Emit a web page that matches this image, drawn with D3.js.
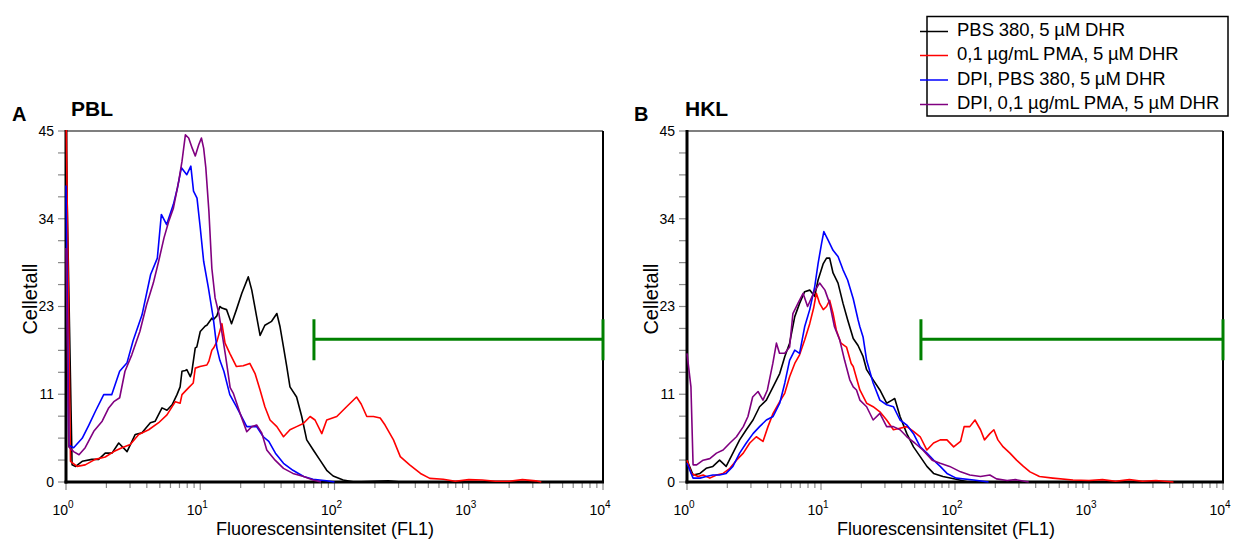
<!DOCTYPE html>
<html><head><meta charset="utf-8">
<script src="https://cdn.jsdelivr.net/npm/d3@7"></script>
<style>body{margin:0;background:#fff}svg{display:block;font-family:Arial,"Liberation Sans",sans-serif}</style>
</head><body><svg id="c" width="1234" height="540"></svg>
<script>
// ---------- data: [FL1 intensity, cell count] ----------
const pblBlack = [[1.00,44],[1.11,2.2],[1.18,2.0],[1.32,2.65],[1.56,2.9],[1.75,2.9],[1.96,3.7],[2.20,3.7],[2.47,5.0],[2.85,3.9],[3.28,6.1],[3.68,6.3],[4.25,7.6],[4.62,7.8],[5.19,9.5],[5.65,9.2],[6.17,9.9],[6.71,11.2],[7.08,12.2],[7.31,14.2],[7.75,14.3],[7.94,14.4],[8.43,13.5],[8.63,14.0],[9.18,17.2],[9.42,17.3],[10.0,19.3],[10.9,20.0],[11.2,20.1],[12.2,21.0],[12.5,20.8],[13.3,21.3],[14.0,22.5],[14.5,22.3],[15.7,22.1],[16.3,21.3],[17.1,20.3],[18.6,22.1],[20.4,24.2],[22.8,26.3],[24.2,24.6],[26.3,21.2],[27.9,18.8],[30.3,20.1],[34.0,20.6],[37.2,21.6],[39.3,19.9],[41.7,17.3],[44.1,14.8],[46.6,12.2],[52.2,10.9],[57.0,8.4],[62.1,5.4],[69.5,4.1],[78.0,2.8],[87.5,1.5],[97.7,0.77],[116,0.25],[141,0],[251,0.15],[316,0],[400,0]];
const pblRed = [[1.00,48],[1.08,2.65],[1.21,2.0],[1.39,2.2],[1.65,2.9],[1.96,3.2],[2.27,3.9],[2.61,4.4],[3.01,4.8],[3.48,6.1],[4.13,6.7],[4.90,7.6],[5.65,8.6],[6.52,10.3],[7.08,10.1],[7.31,11.2],[8.20,12.1],[8.87,12.7],[9.18,14.6],[9.95,14.8],[11.2,15.0],[11.6,15.5],[12.2,16.9],[12.6,17.2],[13.3,18.0],[14.5,20.3],[15.3,17.8],[16.6,16.5],[18.6,14.8],[20.9,14.9],[23.4,15.2],[25.6,13.9],[27.9,11.8],[30.3,9.65],[33.1,7.95],[37.2,7.1],[41.7,5.8],[46.6,6.7],[52.2,7.1],[58.6,7.5],[65.8,8.4],[71.6,7.95],[80.4,6.2],[87.5,7.95],[104,8.4],[123,9.65],[146,10.9],[158,10.0],[174,8.4],[195,8.4],[219,8.2],[238,7.3],[275,5.4],[309,3.25],[363,2.2],[437,1.1],[513,0.47],[646,0.35],[794,0.1],[1000,0.3],[1260,0.25],[1580,0.1],[2000,0.1],[2510,0.3],[3160,0.15],[3470,0]];
const pblBlue = [[1.00,38],[1.05,4.7],[1.14,4.4],[1.32,5.6],[1.48,7.3],[1.66,9.1],[1.91,11.2],[2.19,11.2],[2.51,14.2],[2.85,15.3],[3.16,18.1],[3.68,21.4],[4.27,26.6],[4.79,28.7],[5.13,34.3],[5.62,33.0],[6.31,35.6],[6.76,37.7],[7.24,40.3],[7.94,39.4],[8.51,40.5],[8.91,37.3],[9.46,36.4],[10.0,32.6],[10.6,28.3],[11.5,24.9],[12.5,21.0],[13.3,17.2],[14.0,15.6],[15.0,14.2],[16.6,11.2],[18.6,9.65],[22.2,7.1],[26.3,7.1],[29.5,5.8],[32.4,5.2],[36.3,3.7],[41.7,2.4],[49.0,1.5],[58.9,0.7],[69.2,0.35],[87.1,0.15],[100,0]];
const pblPurple = [[1.00,30],[1.05,4.5],[1.14,3.9],[1.25,3.5],[1.39,4.4],[1.61,6.5],[1.86,7.8],[2.08,9.5],[2.27,10.3],[2.51,10.8],[2.75,14.2],[3.09,16.3],[3.55,19.3],[3.98,22.7],[4.47,25.5],[4.90,28.3],[5.37,31.3],[5.82,33.4],[6.31,35.1],[6.92,38.6],[7.31,41.1],[7.75,44.5],[8.20,44.1],[8.71,42.8],[9.18,41.8],[9.73,43.2],[10.2,44.1],[10.6,42.8],[11.0,40.3],[11.6,34.7],[12.2,27.4],[12.9,23.6],[13.8,21.5],[15.4,16.3],[16.7,12.1],[17.6,11.4],[19.8,8.8],[22.2,6.45],[24.2,7.1],[26.3,7.3],[28.7,6.3],[31.3,4.1],[36.1,2.8],[41.7,1.75],[49.0,1.1],[58.9,0.7],[69.2,0.25],[79.4,0]];

const hklBlack = [[1.00,2.8],[1.11,0.9],[1.25,1.1],[1.39,1.75],[1.56,2.0],[1.75,2.8],[1.96,2.0],[2.20,3.7],[2.47,5.4],[2.77,6.7],[3.11,7.95],[3.48,9.65],[3.91,10.5],[4.39,12.2],[4.92,13.9],[5.37,16.1],[5.83,17.8],[6.37,21.2],[6.92,22.9],[7.55,24.4],[8.24,24.6],[8.97,23.8],[9.51,25.9],[10.4,28.0],[11.0,28.7],[11.6,28.7],[12.3,26.8],[13.4,25.5],[14.6,22.9],[15.8,20.8],[17.4,18.4],[18.9,17.5],[20.6,16.1],[21.9,14.4],[24.5,13.1],[27.5,11.8],[30.9,10.1],[33.9,10.5],[35.5,10.7],[38.9,8.4],[43.7,6.2],[49.0,4.5],[55.0,3.25],[61.7,2.0],[69.2,1.1],[81.3,0.7],[102,0.35],[126,0]];
const hklRed = [[1.00,2.8],[1.08,1.1],[1.21,0.7],[1.32,0.9],[1.48,0.5],[1.66,0.9],[1.86,1.1],[2.09,1.75],[2.34,2.8],[2.63,3.7],[2.94,5.0],[3.29,5.8],[3.69,5.2],[4.02,7.1],[4.39,8.8],[4.92,10.3],[5.37,11.4],[5.83,13.5],[6.37,15.2],[6.92,16.3],[7.55,18.2],[8.24,20.3],[8.81,22.3],[9.23,24.2],[9.77,22.9],[10.4,22.1],[11.0,22.5],[11.6,23.3],[12.3,21.6],[13.0,19.5],[14.1,17.8],[15.5,17.3],[16.8,15.2],[17.4,14.8],[19.5,11.8],[21.9,10.1],[24.5,9.65],[27.5,9.0],[30.9,7.95],[34.7,6.7],[38.9,6.9],[43.7,7.1],[49.0,6.5],[55.0,5.8],[61.7,4.1],[69.2,5.0],[77.6,5.4],[87.1,5.4],[97.7,4.5],[110,5.2],[117,7.1],[129,7.1],[141,7.95],[155,6.7],[166,5.4],[182,6.2],[195,6.7],[209,5.4],[229,4.5],[257,3.7],[288,2.8],[324,2.0],[363,1.3],[427,0.7],[537,0.5],[759,0.25],[1000,0.2],[1260,0.3],[1580,0.1],[2000,0.3],[2510,0.1],[3160,0.2],[4270,0]];
const hklBlue = [[1.00,2.4],[1.11,0.5],[1.25,0.5],[1.39,0.7],[1.56,0.9],[1.75,0.9],[1.96,1.1],[2.20,2.0],[2.47,3.7],[2.77,5.0],[3.11,6.2],[3.48,7.1],[3.91,7.95],[4.39,8.4],[4.92,10.1],[5.37,12.7],[5.83,15.6],[6.37,16.9],[6.92,16.5],[7.55,19.9],[8.24,22.1],[8.97,25.0],[9.51,28.0],[10.1,30.6],[10.5,32.1],[11.3,31.0],[12.3,29.7],[13.4,28.9],[14.6,27.2],[15.8,25.9],[17.4,23.5],[18.9,20.8],[19.5,19.9],[20.6,18.6],[21.9,15.6],[24.5,12.7],[27.5,10.5],[30.9,9.9],[34.7,9.65],[38.9,7.95],[43.7,7.3],[49.0,6.2],[55.0,4.5],[61.7,3.7],[69.2,2.8],[77.6,2.0],[87.1,1.1],[102,0.5],[138,0.25],[178,0]];
const hklPurple = [[1.00,16.5],[1.07,12.2],[1.11,2.2],[1.18,2.2],[1.32,2.8],[1.48,3.0],[1.66,3.7],[1.86,4.1],[2.09,5.0],[2.34,5.8],[2.63,7.1],[2.85,8.4],[3.09,10.9],[3.39,11.6],[3.69,10.5],[3.98,11.8],[4.37,15.2],[4.65,17.8],[4.90,16.5],[5.37,16.5],[5.83,17.3],[6.17,21.6],[6.73,22.9],[7.35,24.2],[7.94,22.5],[8.91,24.4],[9.77,25.5],[10.7,24.6],[11.6,22.9],[12.6,19.9],[13.8,18.2],[15.0,15.6],[16.4,13.1],[17.4,12.2],[18.4,11.8],[19.5,10.5],[21.9,9.65],[24.5,7.95],[27.5,8.8],[30.9,7.1],[34.7,7.1],[38.9,6.7],[43.7,5.8],[50.1,5.0],[57.5,4.1],[67.6,2.8],[77.6,2.4],[91.2,2.0],[110,1.3],[129,0.9],[155,0.7],[182,0.9],[204,0.4],[245,0.2],[282,0.3],[355,0]];

const seriesNames = ["PBS 380, 5 \u00b5M DHR","0,1 \u00b5g/mL PMA, 5 \u00b5M DHR","DPI, PBS 380, 5 \u00b5M DHR","DPI, 0,1 \u00b5g/mL PMA, 5 \u00b5M DHR"];
const seriesColors = ["#000000","#ff0000","#0000ff","#800080"];
const panelLetters = ["A","B"];
const panelTitles = ["PBL","HKL"];
const yTickValues = [0, 11.25, 22.5, 33.75, 45];
const yTickLabels = ["0","11","23","34","45"];
const xDecades = [1,10,100,1000,10000];
const xTickExponents = ["0","1","2","3","4"];
const gateA = [70.3, 10000, 18.3];
const gateB = [55.7, 10000, 18.3];
const yTitle = "Celletall";
const xTitle = "Fluorescensintensitet (FL1)";

// ---------- drawing ----------
const svg = d3.select("#c");
const panels = [
  {x0:66, x1:603, letterX:12, titleX:71, ylabX:30, xlabX:325, series:[pblBlack,pblRed,pblBlue,pblPurple], gate:gateA},
  {x0:687, x1:1223, letterX:634, titleX:685, ylabX:651, xlabX:946, series:[hklBlack,hklRed,hklBlue,hklPurple], gate:gateB}
];
const yTop = 131, yBot = 482;
const grey = "#8a8a8a";

panels.forEach((p, pi) => {
  const x = d3.scaleLog().domain([1,10000]).range([p.x0,p.x1]);
  const y = d3.scaleLinear().domain([0,45]).range([yBot,yTop]);
  const g = svg.append("g");

  // y ticks (minor + major)
  const yMinor = d3.range(17).map(i => i*45/16);
  g.append("g").selectAll("line").data(yMinor).join("line")
    .attr("x1", p.x0-8).attr("x2", p.x0).attr("y1", d=>y(d)).attr("y2", d=>y(d))
    .attr("stroke", grey).attr("stroke-width", 1.2);
  g.append("g").selectAll("text").data(yTickValues).join("text")
    .attr("x", p.x0-12).attr("y", d=>y(d)).attr("dy","0.35em")
    .attr("text-anchor","end").attr("font-size",14).attr("fill","#000")
    .text((d,i)=>yTickLabels[i]);

  // x ticks
  const xt = x.ticks();
  g.append("g").selectAll("line").data(xt).join("line")
    .attr("x1", d=>x(d)).attr("x2", d=>x(d)).attr("y1", yBot)
    .attr("y2", d=> xDecades.includes(d) ? yBot+8 : yBot+6)
    .attr("stroke", grey).attr("stroke-width", 1.2);
  const xl = g.append("g").selectAll("text").data(xDecades).join("text")
    .attr("x", d=>x(d)-3).attr("y", 515).attr("text-anchor","middle")
    .attr("font-size",14).attr("fill","#000");
  xl.append("tspan").text("10");
  xl.append("tspan").attr("dy",-7).attr("font-size",10).text((d,i)=>xTickExponents[i]);

  // frame
  g.append("line").attr("x1",p.x0).attr("x2",p.x1).attr("y1",yTop).attr("y2",yTop).attr("stroke","#000").attr("stroke-width",1.2);
  g.append("line").attr("x1",p.x1).attr("x2",p.x1).attr("y1",yTop).attr("y2",yBot).attr("stroke","#000").attr("stroke-width",2);
  g.append("line").attr("x1",p.x0).attr("x2",p.x0).attr("y1",yTop-1).attr("y2",yBot+1.5).attr("stroke","#000").attr("stroke-width",3);
  g.append("line").attr("x1",p.x0-1.5).attr("x2",p.x1+1).attr("y1",yBot).attr("y2",yBot).attr("stroke","#000").attr("stroke-width",3);

  // curves
  const clipId = "clip"+pi;
  svg.append("clipPath").attr("id",clipId).append("rect")
    .attr("x",p.x0-1).attr("y",yTop-1).attr("width",p.x1-p.x0+2).attr("height",yBot-yTop+2);
  const line = d3.line().x(d=>x(d[0])).y(d=>y(d[1]));
  const cg = g.append("g").attr("clip-path",`url(#${clipId})`);
  p.series.forEach((s,si) => {
    cg.append("path").datum(s).attr("d",line).attr("fill","none")
      .attr("stroke",seriesColors[si]).attr("stroke-width",1.6).attr("stroke-linejoin","round");
  });

  // gate marker
  const gy = y(p.gate[2]);
  const gg = g.append("g").attr("stroke","#008000").attr("stroke-width",3);
  gg.append("line").attr("x1",x(p.gate[0])).attr("x2",x(p.gate[1])).attr("y1",gy).attr("y2",gy);
  gg.append("line").attr("x1",x(p.gate[0])).attr("x2",x(p.gate[0])).attr("y1",gy-20).attr("y2",gy+21);
  gg.append("line").attr("x1",x(p.gate[1])).attr("x2",x(p.gate[1])).attr("y1",gy-20).attr("y2",gy+21);

  // titles
  g.append("text").attr("x",p.letterX).attr("y",121).attr("font-size",20).attr("font-weight","bold").text(panelLetters[pi]);
  g.append("text").attr("x",p.titleX).attr("y",116).attr("font-size",21).attr("font-weight","bold").text(panelTitles[pi]);
  g.append("text").attr("transform",`translate(${p.ylabX},299) rotate(-90)`).attr("text-anchor","middle")
    .attr("dy","0.35em").attr("font-size",20).text(yTitle);
  g.append("text").attr("x",p.xlabX).attr("y",535).attr("text-anchor","middle").attr("font-size",18).text(xTitle);
});

// legend
const lg = svg.append("g");
lg.append("rect").attr("x",927).attr("y",16.5).attr("width",301).attr("height",99.5)
  .attr("fill","#fff").attr("stroke","#000").attr("stroke-width",1.5);
const rowY = [30, 54, 78.5, 103];
seriesNames.forEach((n,i) => {
  lg.append("line").attr("x1",920).attr("x2",948).attr("y1",rowY[i]+1.5).attr("y2",rowY[i]+1.5)
    .attr("stroke",seriesColors[i]).attr("stroke-width",1.5);
  lg.append("text").attr("x",957).attr("y",rowY[i]).attr("dy","0.35em").attr("font-size",18.5)
    .attr("word-spacing",-0.5).text(n);
});
</script></body></html>
